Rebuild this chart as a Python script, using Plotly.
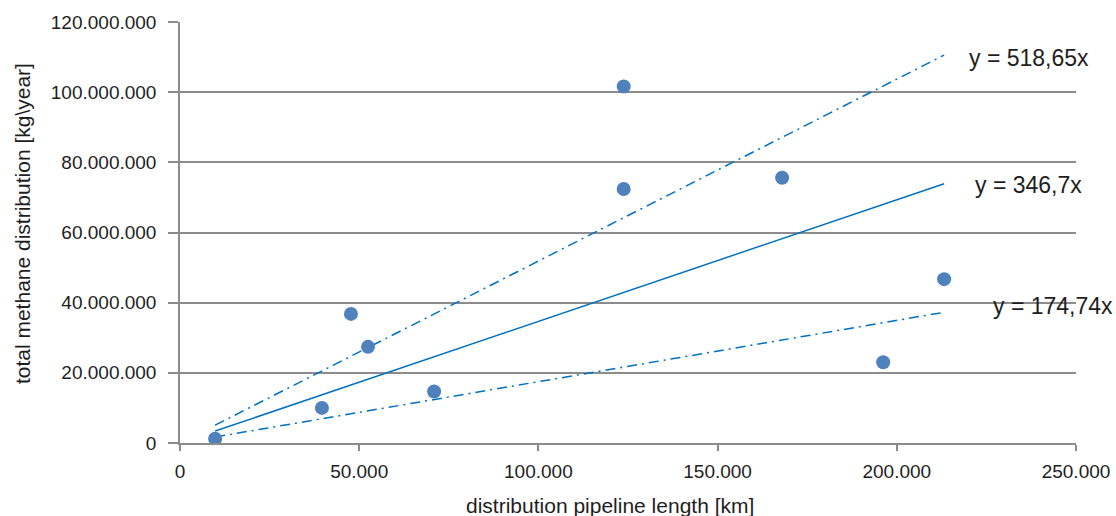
import plotly.graph_objects as go

# Pipeline length [km] and total methane distributed [kg/year] per network
pipeline_km = [9800, 39600, 47700, 52450, 70900, 123800, 123800, 168000, 196200, 213200]
methane_kg = [1200000, 10000000, 36800000, 27400000, 14700000,
              101600000, 72400000, 75600000, 23000000, 46700000]

# Slopes of the fitted lines through the origin
slopes = [518.65, 346.7, 174.74]
slope_labels = ["y = 518,65x", "y = 346,7x", "y = 174,74x"]
slope_dash = ["10px,5px,2px,5px", "solid", "10px,5px,2px,5px"]
label_shift = [(23, -3), (29, -1), (47, 6)]

x_ticks = [0, 50000, 100000, 150000, 200000, 250000]
x_tick_text = ["0", "50.000", "100.000", "150.000", "200.000", "250.000"]
y_ticks = [0, 20000000, 40000000, 60000000, 80000000, 100000000, 120000000]
y_tick_text = ["0", "20.000.000", "40.000.000", "60.000.000", "80.000.000",
               "100.000.000", "120.000.000"]

x_title = "distribution pipeline length [km]"
y_title = "total methane distribution [kg\\year]"

FONT = "Liberation Sans"
TEXT = "#1e1e1e"
LINE_BLUE = "#0070C0"
DOT_BLUE = "#4F81BD"
GRID = "#8C8C8C"

fig = go.Figure()

x0, x1 = min(pipeline_km), max(pipeline_km)
for k, dash in zip(slopes, slope_dash):
    fig.add_trace(go.Scatter(
        x=[x0, x1], y=[k * x0, k * x1], mode="lines",
        line=dict(color=LINE_BLUE, width=1.5, dash=dash),
        showlegend=False, hoverinfo="skip",
    ))

fig.add_trace(go.Scatter(
    x=pipeline_km, y=methane_kg, mode="markers",
    marker=dict(color=DOT_BLUE, size=14, line=dict(width=0)),
    showlegend=False,
))

for k, text, (dx, dy) in zip(slopes, slope_labels, label_shift):
    fig.add_annotation(
        x=x1, y=k * x1, xref="x", yref="y", text=text, showarrow=False,
        xanchor="left", yanchor="middle", xshift=dx, yshift=dy,
        font=dict(family=FONT, size=23, color=TEXT),
    )

# Axis titles
fig.add_annotation(
    x=0.48, y=0, xref="paper", yref="paper", text=x_title, showarrow=False,
    xanchor="center", yanchor="middle", yshift=-62,
    font=dict(family=FONT, size=21, color=TEXT),
)
fig.add_annotation(
    x=0, y=0.52, xref="paper", yref="paper", text=y_title, showarrow=False,
    textangle=-90, xanchor="center", yanchor="middle", xshift=-158,
    font=dict(family=FONT, size=21, color=TEXT),
)

fig.update_layout(
    width=1116, height=516,
    margin=dict(l=180, r=40, t=22, b=73, autoexpand=False),
    paper_bgcolor="white", plot_bgcolor="white",
    font=dict(family=FONT, size=19, color=TEXT),
    xaxis=dict(
        range=[0, 250000], tickvals=x_ticks, ticktext=x_tick_text,
        showgrid=False, zeroline=False, automargin=False,
        showline=True, linecolor=GRID, linewidth=1.5,
        ticks="outside", ticklen=6, tickcolor=GRID, tickwidth=1.5,
        tickfont=dict(family=FONT, size=19, color=TEXT), ticklabelstandoff=4,
    ),
    yaxis=dict(
        range=[0, 120000000], tickvals=y_ticks, ticktext=y_tick_text,
        showgrid=True, gridcolor=GRID, gridwidth=1.5, zeroline=False,
        automargin=False,
        showline=True, linecolor=GRID, linewidth=1.5,
        ticks="outside", ticklen=10, tickcolor=GRID, tickwidth=1.5,
        tickfont=dict(family=FONT, size=19, color=TEXT), ticklabelstandoff=8,
    ),
)

fig.write_html("out.html")
